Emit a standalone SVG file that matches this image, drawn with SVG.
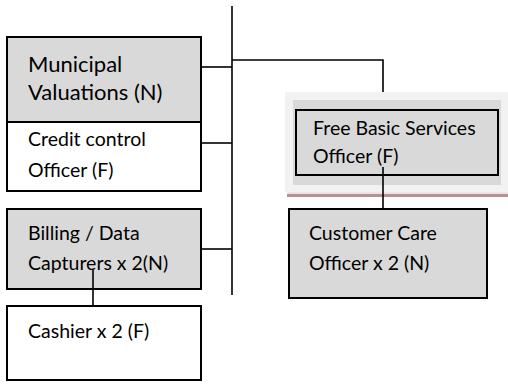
<svg xmlns="http://www.w3.org/2000/svg" width="508" height="385" viewBox="0 0 508 385">
  <style>
    .box { stroke: #000; stroke-width: 2; }
    .grey { fill: #d9d9d9; }
    .white { fill: #fff; }
    .lbl { font-family: Lato, "Liberation Sans", sans-serif; font-size: 19.5px; fill: #000; }
    .big { font-size: 22px; }
    .wire { stroke: #000; stroke-width: 1.6; fill: none; }
  </style>
  <rect width="508" height="385" fill="#fff"/>

  <!-- connectors -->
  <g id="connectors">
    <line class="wire" x1="232" y1="6" x2="232" y2="295" stroke-width="2"/>
    <polyline class="wire" points="232,60 383,60 383,95"/>
    <line class="wire" x1="201" y1="67" x2="232" y2="67"/>
    <line class="wire" x1="201" y1="143" x2="232" y2="143"/>
    <line class="wire" x1="201" y1="249" x2="232" y2="249"/>
  </g>

  <!-- credit control sits under the valuations box -->
  <g id="credit-control">
    <rect class="box white" x="7" y="112" width="194" height="79"/>
    <text class="lbl" x="28" y="146">Credit control</text>
    <text class="lbl" x="28" y="177">Officer (F)</text>
  </g>

  <g id="municipal-valuations">
    <rect class="box grey" x="7" y="37" width="194" height="85"/>
    <text class="lbl big" x="28" y="72">Municipal</text>
    <text class="lbl big" x="28" y="100">Valuations (N)</text>
  </g>

  <g id="billing">
    <rect class="box grey" x="7" y="209" width="194" height="80"/>
    <text class="lbl" x="28" y="240">Billing / Data</text>
    <text class="lbl" x="28" y="270">Capturers x 2(N)</text>
  </g>

  <g id="cashier">
    <rect class="box white" x="7" y="306" width="194" height="74"/>
    <text class="lbl" x="28" y="338">Cashier x 2 (F)</text>
  </g>

  <line class="wire" x1="93" y1="270" x2="93" y2="306"/>

  <g id="free-basic-services">
    <!-- soft frame with a shaded rule underneath -->
    <rect x="285" y="92" width="223" height="100" fill="#f2f2f2"/>
    <rect x="293" y="100" width="208" height="85" fill="#d9d9d9"/>
    <rect x="287" y="192.5" width="221" height="1" fill="#dccaca"/>
    <rect x="287" y="194" width="221" height="3" fill="#b59292"/>
    <rect class="box grey" x="296" y="110" width="202" height="65"/>
    <text class="lbl" x="313" y="135">Free Basic Services</text>
    <text class="lbl" x="313" y="163">Officer (F)</text>
  </g>

  <line class="wire" x1="383" y1="167" x2="383" y2="209"/>

  <g id="customer-care">
    <rect class="box grey" x="289" y="209" width="198" height="89"/>
    <text class="lbl" x="309" y="240">Customer Care</text>
    <text class="lbl" x="309" y="270">Officer x 2 (N)</text>
  </g>
</svg>
